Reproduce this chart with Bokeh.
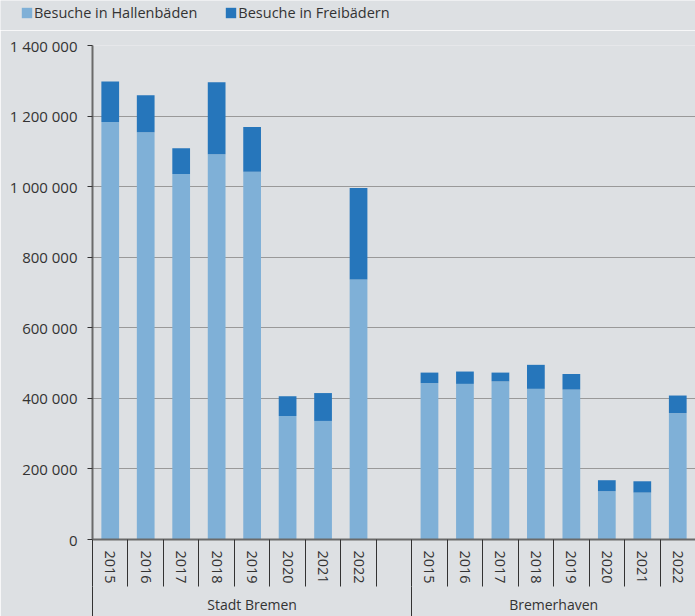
from bokeh.plotting import figure
from bokeh.layouts import column
from bokeh.models import Range1d, FixedTicker, LinearAxis, Legend, LegendItem, ColumnDataSource
from bokeh.embed import file_html
from bokeh.resources import INLINE

years = ["2015", "2016", "2017", "2018", "2019", "2020", "2021", "2022"]
groups = ["Stadt Bremen", "Bremerhaven"]
series = ["Besuche in Hallenbäden", "Besuche in Freibädern"]

bremen_hallen = [1183000, 1154000, 1036000, 1092000, 1042000, 350000, 336000, 737000]
bremen_frei = [115000, 105000, 73000, 204000, 127000, 56000, 79000, 259000]
bremerhaven_hallen = [443000, 441000, 448000, 427000, 425000, 137000, 133000, 358000]
bremerhaven_frei = [30000, 35000, 25000, 68000, 44000, 31000, 32000, 50000]

y_ticks = [0, 200000, 400000, 600000, 800000, 1000000, 1200000, 1400000]
y_tick_labels = ["0", "200 000", "400 000", "600 000", "800 000", "1 000 000", "1 200 000", "1 400 000"]

FONT = "Open Sans"
TEXT = "#333333"
BG = "#dde0e3"
C_HALLEN = "#7fb0d7"
C_FREI = "#2676bb"
AXIS = "#6a6a6a"
W = 695
LEG_H = 30

n = len(years)
slots = 2 * n + 1
xs, hallen, frei = [], [], []
for g, (h, f) in enumerate([(bremen_hallen, bremen_frei), (bremerhaven_hallen, bremerhaven_frei)]):
    for i in range(n):
        xs.append(g * (n + 1) + i + 0.5)
        hallen.append(h[i])
        frei.append(f[i])

src = ColumnDataSource(dict(x=xs, hallen=hallen, frei=frei))

# ---- legend strip (its own frame spans the full width) ----
lf = figure(width=W, height=LEG_H, output_backend="svg", toolbar_location=None,
            x_axis_location=None, y_axis_location=None,
            x_range=Range1d(-20, -19), y_range=Range1d(-2e7, -1e7),
            min_border=0, min_border_left=0, min_border_right=0, min_border_top=0, min_border_bottom=0,
            background_fill_color=BG, border_fill_color=BG)
lf.frame_align = False
lf.outline_line_color = None
lf.grid.visible = False
# same stacked bars, far outside this strip's visible ranges: only used for the legend swatches
lrs = lf.vbar_stack(["hallen", "frei"], x="x", width=0.5, source=src,
                    color=[C_HALLEN, C_FREI], line_color=None)
legend = Legend(items=[LegendItem(label=series[0], renderers=[lrs[0]]),
                       LegendItem(label=series[1], renderers=[lrs[1]])],
                orientation="horizontal", location=(20, 8),
                background_fill_alpha=0, border_line_color=None,
                padding=0, margin=0, spacing=27, label_standoff=1,
                glyph_width=13, glyph_height=13,
                label_text_font=FONT, label_text_font_size="14.5px", label_text_color=TEXT,
                label_height=13)
lf.add_layout(legend, "center")

# ---- main chart ----
p = figure(width=W, height=616 - LEG_H, output_backend="svg", toolbar_location=None,
           x_range=Range1d(0, slots), y_range=Range1d(0, 1400000),
           min_border_left=92, min_border_right=0, min_border_top=45 - LEG_H, min_border_bottom=75,
           background_fill_color=BG, border_fill_color=BG, x_axis_type=None)
p.frame_align = False
p.outline_line_color = None

rs = p.vbar_stack(["hallen", "frei"], x="x", width=0.5, source=src,
                  color=[C_HALLEN, C_FREI], line_color=None)

# y axis
p.yaxis.ticker = FixedTicker(ticks=y_ticks)
p.yaxis.major_label_overrides = {t: l for t, l in zip(y_ticks, y_tick_labels)}
p.yaxis.major_tick_out = 5
p.yaxis.major_tick_in = 0
p.yaxis.minor_tick_out = 0
p.yaxis.minor_tick_in = 0
p.yaxis.major_label_standoff = 10
p.yaxis.axis_line_color = AXIS
p.yaxis.axis_line_width = 2
p.yaxis.major_tick_line_color = "#333333"
p.yaxis.major_label_text_font = FONT
p.yaxis.major_label_text_font_size = "15px"
p.yaxis.major_label_text_color = TEXT

p.ygrid.ticker = FixedTicker(ticks=y_ticks)
p.ygrid.grid_line_color = "#999999"
p.ygrid.grid_line_width = 1
p.xgrid.visible = False

# year axis
centers = xs
year_labels = years + years
ax1 = LinearAxis(ticker=FixedTicker(ticks=centers, minor_ticks=list(range(slots + 1))))
ax1.major_label_overrides = {c: y for c, y in zip(centers, year_labels)}
ax1.major_label_orientation = "vertical"
ax1.major_tick_out = 0
ax1.major_tick_in = 0
ax1.minor_tick_out = 0
ax1.minor_tick_in = -47
ax1.minor_tick_line_color = "#333333"
ax1.axis_line_color = AXIS
ax1.axis_line_width = 2
ax1.major_label_standoff = 11
ax1.major_label_text_font = FONT
ax1.major_label_text_font_size = "14.5px"
ax1.major_label_text_color = TEXT
p.add_layout(ax1, "below")

# group axis
g_centers = [n / 2 + 0.5, (n + 1) + n / 2]
ax2 = LinearAxis(ticker=FixedTicker(ticks=g_centers, minor_ticks=[0, n + 1, slots]))
ax2.major_label_overrides = {c: g for c, g in zip(g_centers, groups)}
ax2.major_tick_out = 0
ax2.major_tick_in = 0
ax2.minor_tick_out = 0
ax2.minor_tick_in = -40
ax2.minor_tick_line_color = "#333333"
ax2.axis_line_color = None
ax2.major_label_standoff = 8
ax2.major_label_text_font = FONT
ax2.major_label_text_font_size = "14px"
ax2.major_label_text_color = TEXT
p.add_layout(ax2, "below")

layout = column(lf, p, spacing=0)
open("out.html", "w").write(file_html(layout, INLINE))
